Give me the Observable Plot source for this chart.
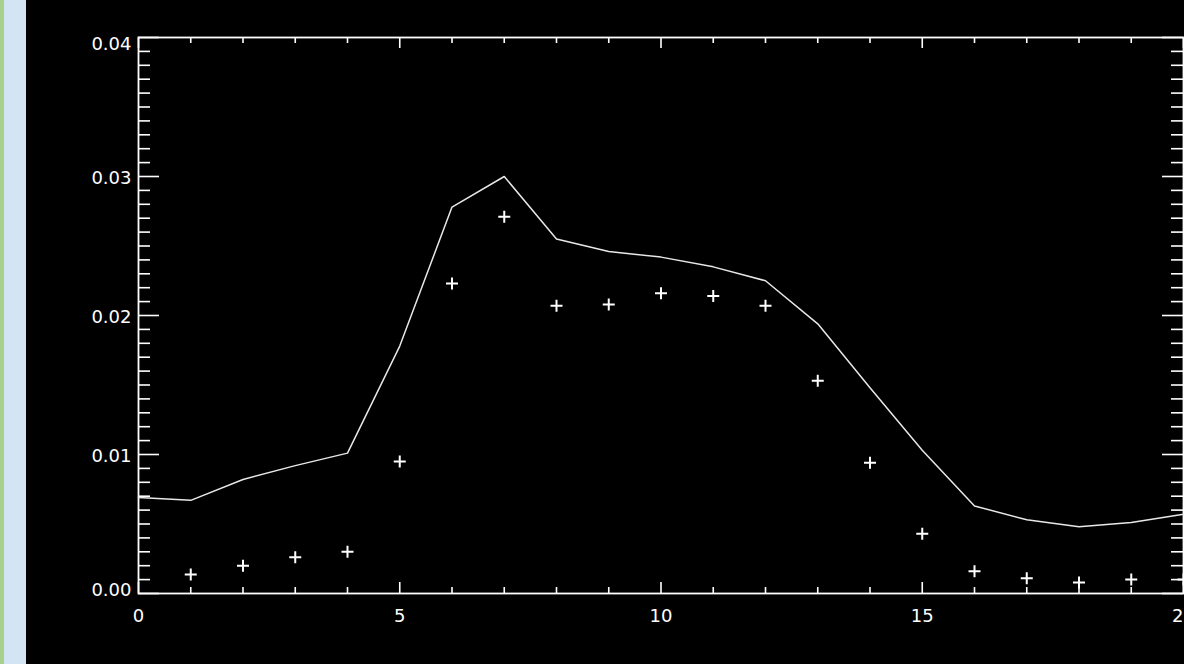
<!DOCTYPE html>
<html><head><meta charset="utf-8">
<script src="https://cdn.jsdelivr.net/npm/d3@7"></script>
<script src="https://cdn.jsdelivr.net/npm/@observablehq/plot@0.6"></script>
<style>
html,body{margin:0;padding:0;background:#000;overflow:hidden}
#wrap{position:relative;width:1184px;height:664px}
#wrap svg{position:absolute;left:0;top:0}
.strip{position:absolute;top:0;height:664px}
</style></head><body>
<div id="wrap"></div>
<script>
// ---- data ----
const xIndex = [0,1,2,3,4,5,6,7,8,9,10,11,12,13,14,15,16,17,18,19,20];
const modelValues = [0.0069,0.0067,0.0082,0.0092,0.0101,0.0178,0.0278,0.0300,0.0255,0.0246,0.0242,0.0235,0.0225,0.0194,0.0148,0.0103,0.0063,0.0053,0.0048,0.0051,0.0057];
const obsX = [1,2,3,4,5,6,7,8,9,10,11,12,13,14,15,16,17,18,19,20];
const obsValues = [0.00137,0.0020,0.0026,0.0030,0.0095,0.0223,0.0271,0.0207,0.0208,0.0216,0.0214,0.0207,0.0153,0.0094,0.0043,0.0016,0.0011,0.0008,0.0010,0.0010];
const yTickValues = [0,0.01,0.02,0.03,0.04];
const yTickLabels = ["0.00","0.01","0.02","0.03","0.04"];
const xTickValues = [0,5,10,15,20];
const xTickLabels = ["0","5","10","15","20"];

// ---- tables ----
const line = xIndex.map((x,i)=>({x, y: modelValues[i]}));
const pts = obsX.map((x,i)=>({x, y: obsValues[i]}));
const yLab = yTickValues.map((v,i)=>({v, t: yTickLabels[i]}));
const xLab = xTickValues.map((v,i)=>({v, t: xTickLabels[i]}));
const yMinor = d3.range(0, 0.0405, 0.001).filter(v => !yTickValues.some(t => Math.abs(t - v) < 1e-9));
const xMinor = d3.range(0, 21, 1).filter(v => !xTickValues.includes(v));

const W=1184, H=664, mL=138, mR=1, mT=37, mB=71;
const pw = W-mL-mR, ph = H-mT-mB;
const cross = {draw(ctx, size){ const r=Math.sqrt(size/Math.PI); ctx.moveTo(-r,0); ctx.lineTo(r,0); ctx.moveTo(0,-r); ctx.lineTo(0,r); }};
const ax = {stroke:"#fff", strokeWidth:1.6};

const chart = Plot.plot({
  width: W, height: H,
  marginLeft: mL, marginRight: mR, marginTop: mT, marginBottom: mB,
  style: {background:"#000", color:"#fff", fontFamily:"DejaVu Sans", fontSize:"18px"},
  x: {domain:[0,20], axis:null},
  y: {domain:[0,0.04], axis:null},
  marks: [
    // left ticks
    Plot.tickY(yMinor, {y:d=>d, ...ax, insetRight: pw-12}),
    Plot.tickY(yTickValues, {y:d=>d, ...ax, insetRight: pw-21}),
    // right ticks
    Plot.tickY(yMinor, {y:d=>d, ...ax, insetLeft: pw-12}),
    Plot.tickY(yTickValues, {y:d=>d, ...ax, insetLeft: pw-21}),
    // bottom ticks
    Plot.tickX(xMinor, {x:d=>d, ...ax, insetTop: ph-6}),
    Plot.tickX(xTickValues, {x:d=>d, ...ax, insetTop: ph-11}),
    // top ticks
    Plot.tickX(xMinor, {x:d=>d, ...ax, insetBottom: ph-6}),
    Plot.tickX(xTickValues, {x:d=>d, ...ax, insetBottom: ph-11}),
    Plot.frame({stroke:"#fff", strokeWidth:1.8}),
    // y labels
    Plot.text(yLab.filter(d=>d.v>0 && d.v<0.04), {y:"v", text:"t", frameAnchor:"left", textAnchor:"end", dx:-7, dy:2, lineAnchor:"middle", fill:"#fff"}),
    Plot.text(yLab.filter(d=>d.v===0.04), {y:"v", text:"t", frameAnchor:"left", textAnchor:"end", dx:-7, dy:0, lineAnchor:"top", fill:"#fff"}),
    Plot.text(yLab.filter(d=>d.v===0), {y:"v", text:"t", frameAnchor:"left", textAnchor:"end", dx:-7, dy:2, lineAnchor:"bottom", fill:"#fff"}),
    // x labels
    Plot.text(xLab, {x:"v", text:"t", frameAnchor:"bottom", lineAnchor:"top", dy:16, fill:"#fff"}),
    // data
    Plot.line(line, {x:"x", y:"y", stroke:"#e8e8e8", strokeWidth:1.5}),
    Plot.dot(pts, {x:"x", y:"y", symbol: cross, r:6, stroke:"#fff", strokeWidth:2, fill:"none"})
  ]
});
const wrap = document.getElementById("wrap");
wrap.appendChild(chart);
const s1 = document.createElement("div"); s1.className="strip"; s1.style.left="0px"; s1.style.width="4px"; s1.style.background="#a9d08e";
const s2 = document.createElement("div"); s2.className="strip"; s2.style.left="4px"; s2.style.width="22px"; s2.style.background="#d3e4f5";
wrap.appendChild(s1); wrap.appendChild(s2);
</script>
</body></html>
